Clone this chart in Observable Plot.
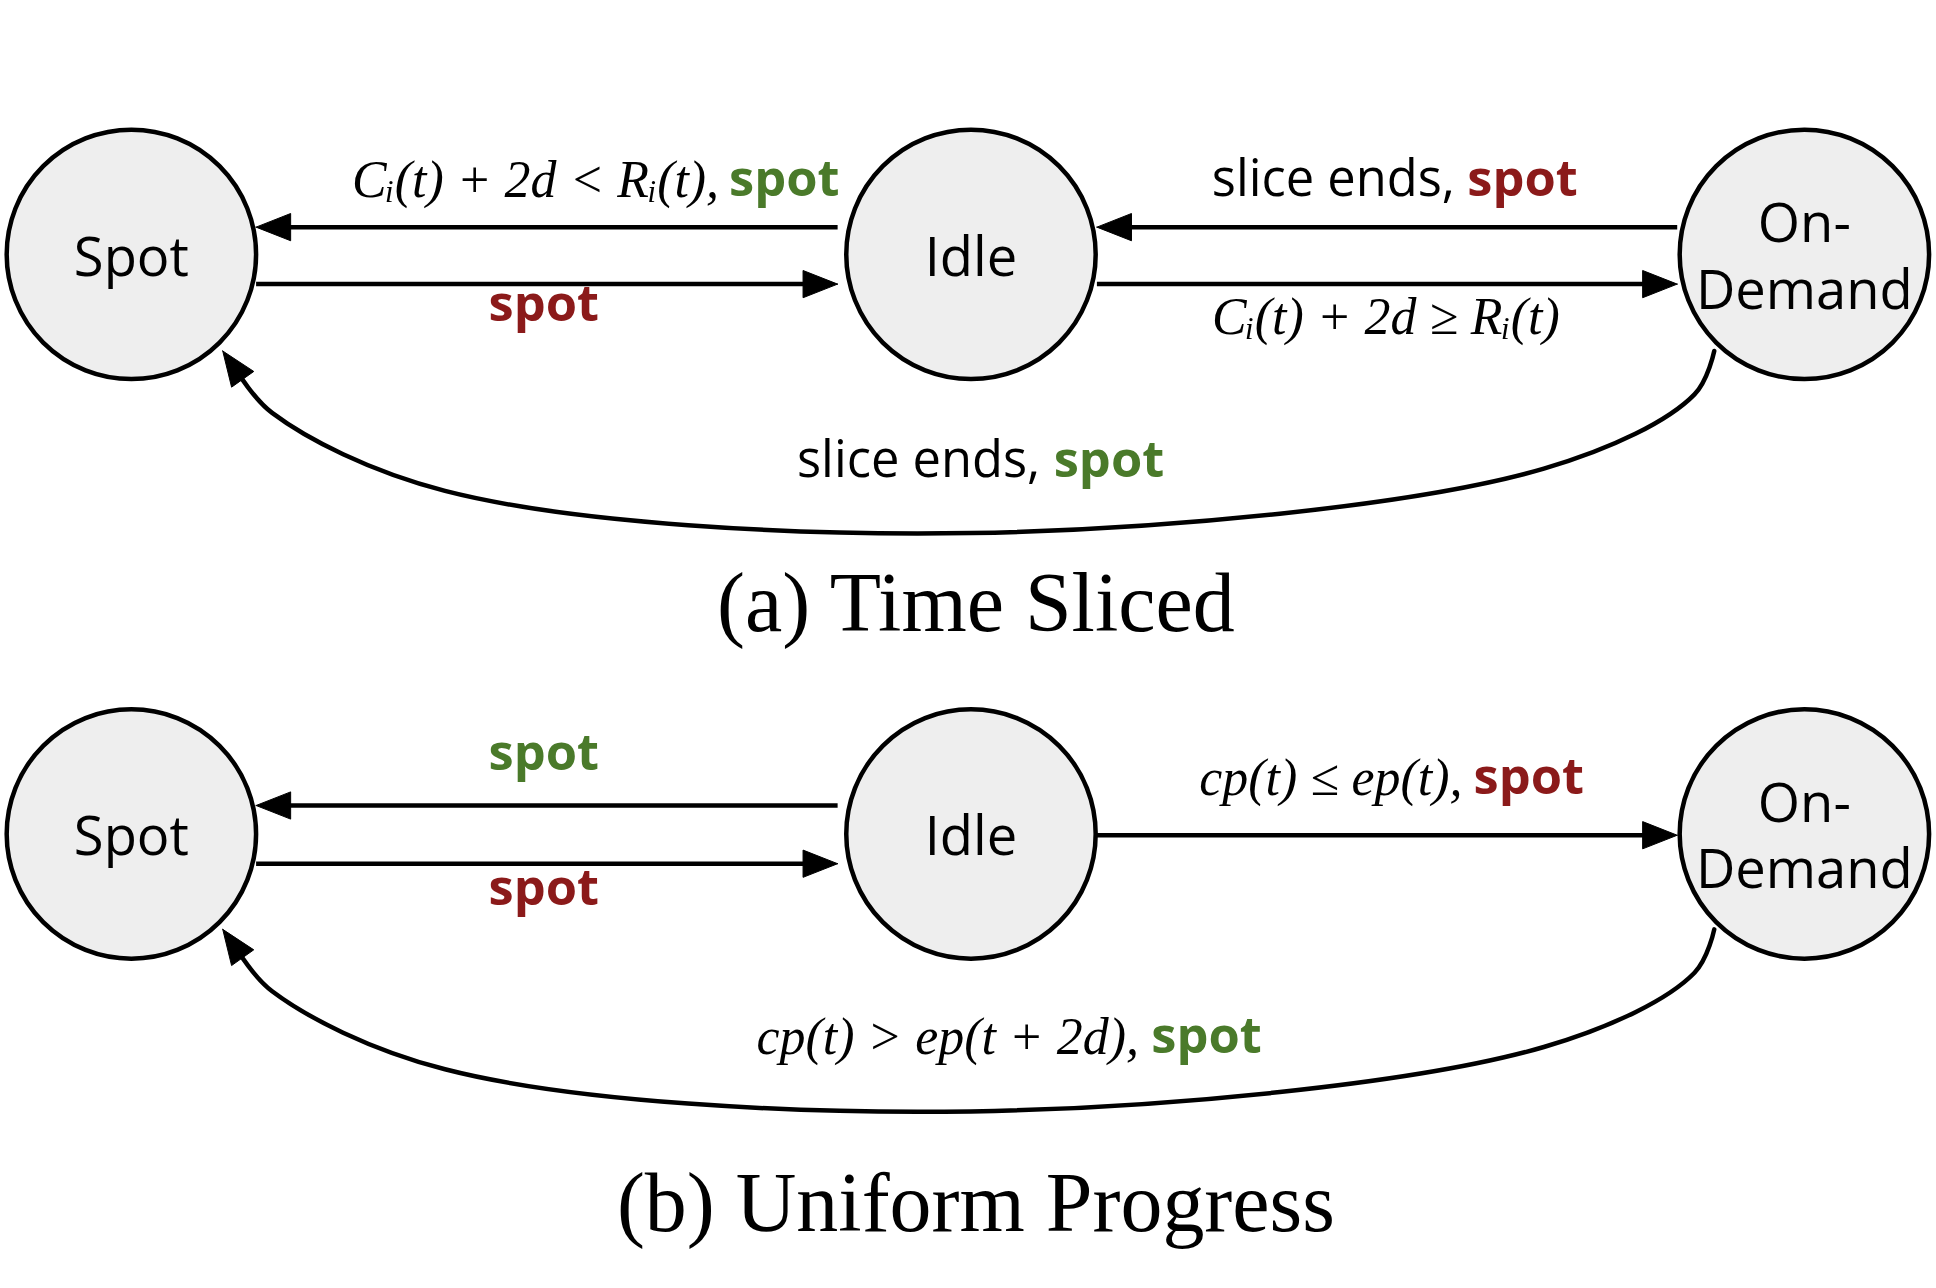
<!DOCTYPE html>
<html><head><meta charset="utf-8">
<script src="https://cdn.jsdelivr.net/npm/d3@7"></script>
<script src="https://cdn.jsdelivr.net/npm/@observablehq/plot@0.6"></script>
<style>body{margin:0;background:#fff}</style>
</head><body><div id="chart"></div>
<script>
// layout units are those of the original 1568x1040 figure
const W = 1568, H = 1040, k = 1936 / W
const RED = '#8b1a1a', GREEN = '#4a7a2a'

const nodes = [
  {x: 106, y: 205, name: 'Spot'}, {x: 786, y: 205, name: 'Idle'}, {x: 1461, y: 205, name: 'On-\nDemand'},
  {x: 106, y: 673, name: 'Spot'}, {x: 786, y: 673, name: 'Idle'}, {x: 1461, y: 673, name: 'On-\nDemand'}
]
// straight transitions
const edges = [
  {x1: 678, y1: 183, x2: 207, y2: 183}, {x1: 207, y1: 229, x2: 678, y2: 229},
  {x1: 1358, y1: 183, x2: 888, y2: 183}, {x1: 888, y1: 229, x2: 1358, y2: 229},
  {x1: 678, y1: 650, x2: 207, y2: 650}, {x1: 207, y1: 697, x2: 678, y2: 697},
  {x1: 888, y1: 674, x2: 1358, y2: 674}
]
// curved On-Demand -> Spot transitions
const curveA = [[1388, 283], [1372, 318], [1250, 378], [786, 430], [360, 396], [220, 333], [192, 300]]
const curveB = curveA.map(([x, y]) => [x, y + 467])
const curveTips = [[curveA.at(-1), [180, 283]], [curveB.at(-1), [180, 750]]]

const blackLabels = [
  {x: 582, y: 145, text: 'Cᵢ(t) + 2d < Rᵢ(t),', math: true, anchor: 'end'},
  {x: 1178, y: 145, text: 'slice ends,', math: false, anchor: 'end'},
  {x: 1122, y: 256, text: 'Cᵢ(t) + 2d ≥ Rᵢ(t)', math: true, anchor: 'middle'},
  {x: 842, y: 372, text: 'slice ends,', math: false, anchor: 'end'},
  {x: 1184, y: 628, text: 'cp(t) ≤ ep(t),', math: true, anchor: 'end'},
  {x: 922, y: 837, text: 'cp(t) > ep(t + 2d),', math: true, anchor: 'end'}
]
const spotLabels = [
  {x: 590, y: 145, color: GREEN, anchor: 'start'},
  {x: 440, y: 246, color: RED, anchor: 'middle'},
  {x: 1188, y: 145, color: RED, anchor: 'start'},
  {x: 853, y: 372, color: GREEN, anchor: 'start'},
  {x: 440, y: 608, color: GREEN, anchor: 'middle'},
  {x: 440, y: 717, color: RED, anchor: 'middle'},
  {x: 1193, y: 628, color: RED, anchor: 'start'},
  {x: 932, y: 837, color: GREEN, anchor: 'start'}
]
const captions = [{x: 790, y: 487, text: '(a) Time Sliced'}, {x: 790, y: 972, text: '(b) Uniform Progress'}]

// filled arrowheads from (from -> tip)
function head(from, tip, id) {
  const L = 28, Wd = 11
  const dx = tip[0] - from[0], dy = tip[1] - from[1], n = Math.hypot(dx, dy)
  const ux = dx / n, uy = dy / n
  const bx = tip[0] - ux * L, by = tip[1] - uy * L
  return [[tip[0], tip[1]], [bx - uy * Wd, by + ux * Wd], [bx + uy * Wd, by - ux * Wd], [tip[0], tip[1]]]
    .map(([x, y]) => ({x, y, id}))
}
const heads = [
  ...edges.flatMap((e, i) => head([e.x1, e.y1], [e.x2, e.y2], 'e' + i)),
  ...curveTips.flatMap(([a, b], i) => head(a, b, 'c' + i))
]
const shafts = edges.map(e => {
  const n = Math.hypot(e.x2 - e.x1, e.y2 - e.y1)
  return {...e, x2: e.x2 - (e.x2 - e.x1) / n * 20, y2: e.y2 - (e.y2 - e.y1) / n * 20}
})

const mathFont = {fontSize: 42 * k, fontFamily: 'Liberation Serif', fontStyle: 'italic', fill: 'black'}
const spotFont = {fontSize: 41 * k, fontWeight: 'bold', fontFamily: 'Open Sans', fill: 'color'}

const chart = Plot.plot({
  width: 1936, height: 1288, margin: 0,
  x: {domain: [0, W], axis: null},
  y: {domain: [0, H], reverse: true, axis: null},
  marks: [
    Plot.link(shafts, {x1: 'x1', y1: 'y1', x2: 'x2', y2: 'y2', stroke: 'black', strokeWidth: 4.5}),
    Plot.line(curveA, {x: d => d[0], y: d => d[1], curve: 'catmull-rom', stroke: 'black', strokeWidth: 4.5}),
    Plot.line(curveB, {x: d => d[0], y: d => d[1], curve: 'catmull-rom', stroke: 'black', strokeWidth: 4.5}),
    Plot.line(heads, {x: 'x', y: 'y', z: 'id', fill: 'black', stroke: 'black', strokeWidth: 1}),
    Plot.dot(nodes, {x: 'x', y: 'y', r: 101 * k, fill: '#eeeeee', stroke: 'black', strokeWidth: 4.5}),
    Plot.text(nodes, {x: 'x', y: 'y', text: 'name', fontSize: 44 * k, fontFamily: 'Open Sans', lineHeight: 1.22, fill: 'black'}),
    Plot.text(blackLabels.filter(d => !d.math), {x: 'x', y: 'y', text: 'text', textAnchor: 'end', fontSize: 41 * k, fontFamily: 'Open Sans', fill: 'black'}),
    Plot.text(blackLabels.filter(d => d.math && d.anchor === 'end'), {x: 'x', y: 'y', text: 'text', textAnchor: 'end', ...mathFont}),
    Plot.text(blackLabels.filter(d => d.math && d.anchor === 'middle'), {x: 'x', y: 'y', text: 'text', ...mathFont}),
    Plot.text(spotLabels.filter(d => d.anchor === 'start'), {x: 'x', y: 'y', text: () => 'spot', textAnchor: 'start', ...spotFont}),
    Plot.text(spotLabels.filter(d => d.anchor === 'middle'), {x: 'x', y: 'y', text: () => 'spot', ...spotFont}),
    Plot.text(captions, {x: 'x', y: 'y', text: 'text', fontSize: 68 * k, fontFamily: 'Liberation Serif', fill: 'black'})
  ]
})
document.getElementById('chart').append(chart)
</script>
</body></html>
